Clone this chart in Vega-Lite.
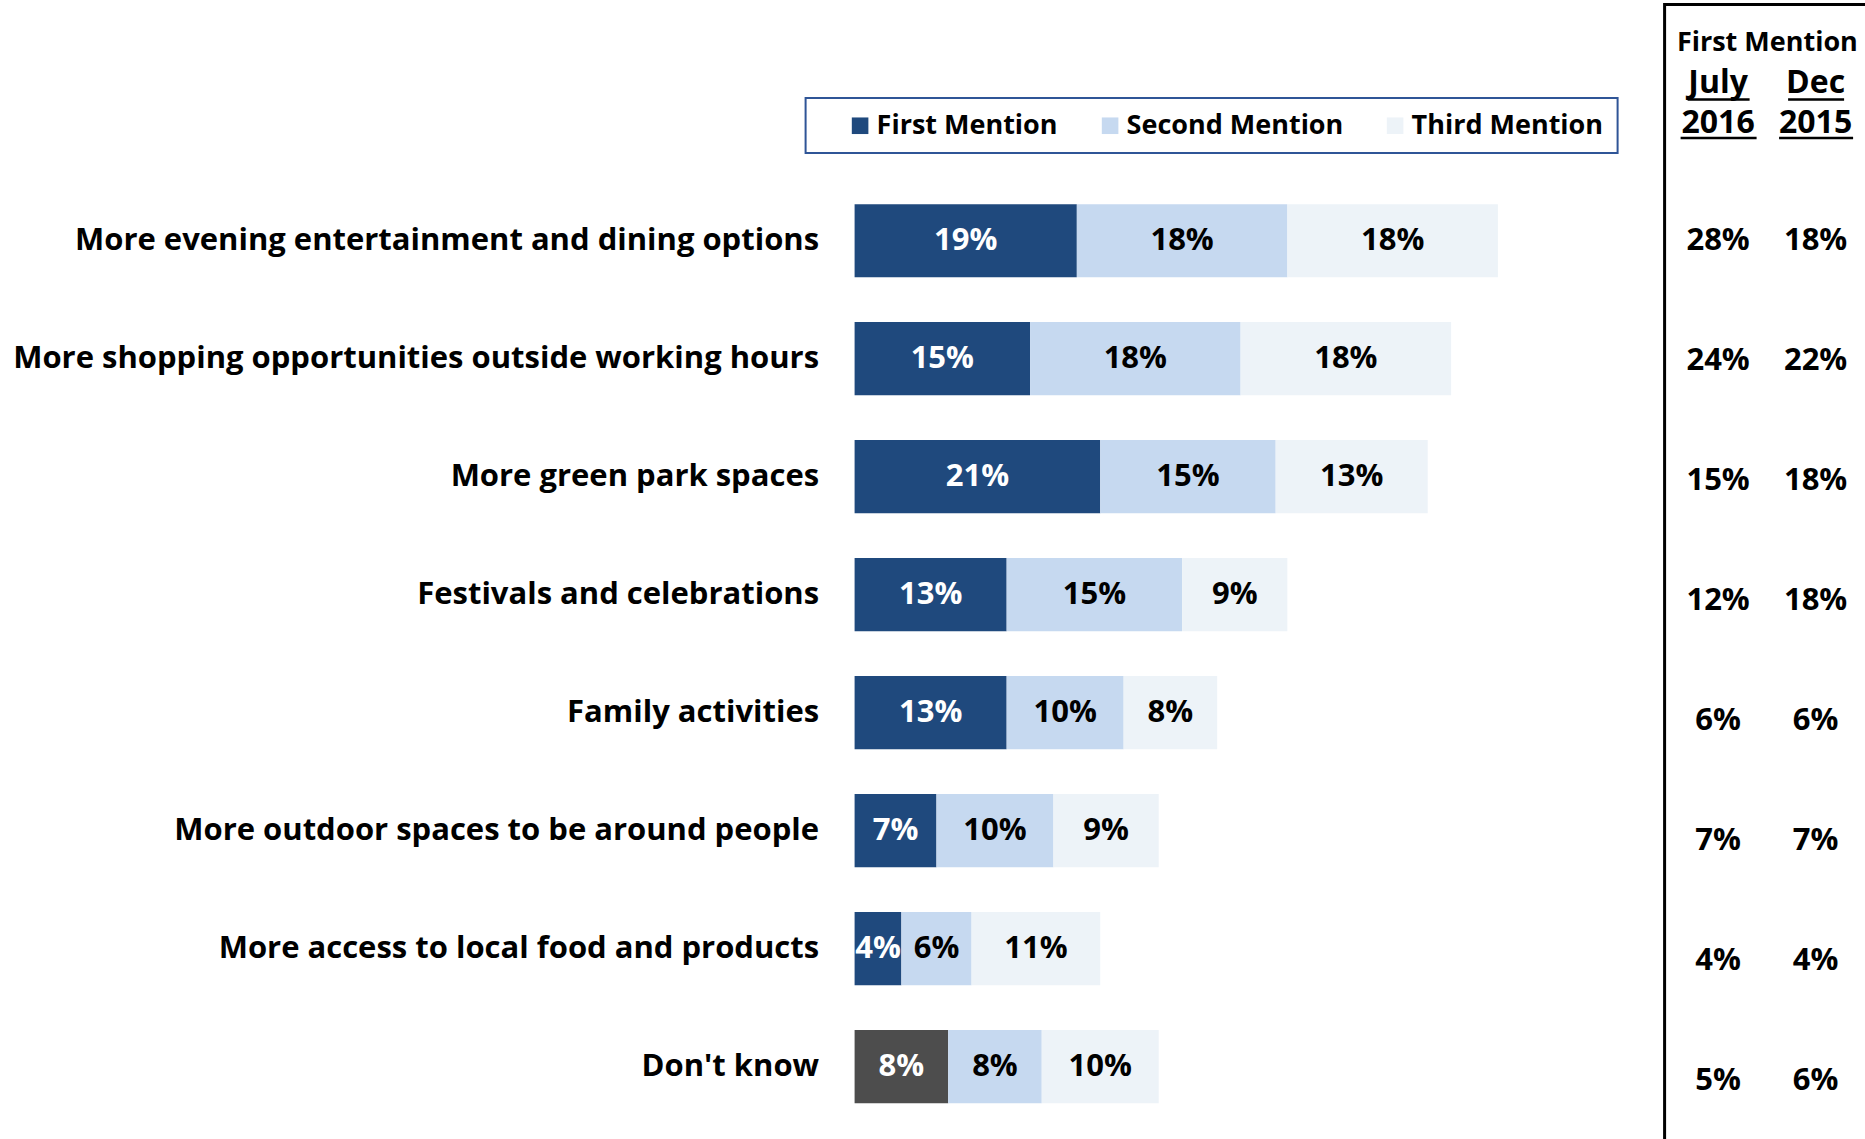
{
  "$schema": "https://vega.github.io/schema/vega-lite/v6.json",
  "padding": {"left": 11.6, "top": 2.5, "right": 0, "bottom": 0},
  "background": "white",
  "bounds": "flush",
  "spacing": 24,
  "config": {"view": {"stroke": null}, "font": "Open Sans"},
  "resolve": {"legend": {"color": "independent"}, "scale": {"x": "independent", "y": "independent"}},
  "datasets": {
    "bars": [
      {"item": "More evening entertainment and dining options", "mention": "First Mention", "value": 0.19},
      {"item": "More evening entertainment and dining options", "mention": "Second Mention", "value": 0.18},
      {"item": "More evening entertainment and dining options", "mention": "Third Mention", "value": 0.18},
      {"item": "More shopping opportunities outside working hours", "mention": "First Mention", "value": 0.15},
      {"item": "More shopping opportunities outside working hours", "mention": "Second Mention", "value": 0.18},
      {"item": "More shopping opportunities outside working hours", "mention": "Third Mention", "value": 0.18},
      {"item": "More green park spaces", "mention": "First Mention", "value": 0.21},
      {"item": "More green park spaces", "mention": "Second Mention", "value": 0.15},
      {"item": "More green park spaces", "mention": "Third Mention", "value": 0.13},
      {"item": "Festivals and celebrations", "mention": "First Mention", "value": 0.13},
      {"item": "Festivals and celebrations", "mention": "Second Mention", "value": 0.15},
      {"item": "Festivals and celebrations", "mention": "Third Mention", "value": 0.09},
      {"item": "Family activities", "mention": "First Mention", "value": 0.13},
      {"item": "Family activities", "mention": "Second Mention", "value": 0.10},
      {"item": "Family activities", "mention": "Third Mention", "value": 0.08},
      {"item": "More outdoor spaces to be around people", "mention": "First Mention", "value": 0.07},
      {"item": "More outdoor spaces to be around people", "mention": "Second Mention", "value": 0.10},
      {"item": "More outdoor spaces to be around people", "mention": "Third Mention", "value": 0.09},
      {"item": "More access to local food and products", "mention": "First Mention", "value": 0.04},
      {"item": "More access to local food and products", "mention": "Second Mention", "value": 0.06},
      {"item": "More access to local food and products", "mention": "Third Mention", "value": 0.11},
      {"item": "Don't know", "mention": "First Mention", "value": 0.08},
      {"item": "Don't know", "mention": "Second Mention", "value": 0.08},
      {"item": "Don't know", "mention": "Third Mention", "value": 0.10}
    ],
    "first": [
      {"item": "More evening entertainment and dining options", "period": "July 2016", "value": 0.28},
      {"item": "More evening entertainment and dining options", "period": "Dec 2015", "value": 0.18},
      {"item": "More shopping opportunities outside working hours", "period": "July 2016", "value": 0.24},
      {"item": "More shopping opportunities outside working hours", "period": "Dec 2015", "value": 0.22},
      {"item": "More green park spaces", "period": "July 2016", "value": 0.15},
      {"item": "More green park spaces", "period": "Dec 2015", "value": 0.18},
      {"item": "Festivals and celebrations", "period": "July 2016", "value": 0.12},
      {"item": "Festivals and celebrations", "period": "Dec 2015", "value": 0.18},
      {"item": "Family activities", "period": "July 2016", "value": 0.06},
      {"item": "Family activities", "period": "Dec 2015", "value": 0.06},
      {"item": "More outdoor spaces to be around people", "period": "July 2016", "value": 0.07},
      {"item": "More outdoor spaces to be around people", "period": "Dec 2015", "value": 0.07},
      {"item": "More access to local food and products", "period": "July 2016", "value": 0.04},
      {"item": "More access to local food and products", "period": "Dec 2015", "value": 0.04},
      {"item": "Don't know", "period": "July 2016", "value": 0.05},
      {"item": "Don't know", "period": "Dec 2015", "value": 0.06}
    ]
  },
  "hconcat": [
    {
      "width": 786,
      "height": 1135,
      "data": {"name": "bars"},
      "encoding": {
        "y": {
          "field": "item", "type": "nominal",
          "sort": ["More evening entertainment and dining options", "More shopping opportunities outside working hours", "More green park spaces", "Festivals and celebrations", "Family activities", "More outdoor spaces to be around people", "More access to local food and products", "Don't know"],
          "scale": {"type": "band", "paddingInner": 0.38, "paddingOuter": 1.0487, "align": 0.846},
          "axis": {"title": null, "domain": false, "ticks": false, "grid": false, "labelPadding": 36, "labelFont": "Open Sans", "labelFontSize": 31, "labelFontWeight": "bold", "labelColor": "black", "labelLimit": 1200}
        }
      },
      "layer": [
        {
          "mark": {"type": "bar"},
          "encoding": {
            "x": {"field": "value", "type": "quantitative", "stack": "zero", "scale": {"domain": [0, 0.672], "nice": false, "zero": true}, "axis": null},
            "order": {"field": "mention", "type": "nominal"},
            "color": {
              "condition": {"test": "datum.item === \"Don't know\" && datum.mention === 'First Mention'", "value": "#4D4D4D"},
              "field": "mention", "type": "nominal",
              "scale": {"domain": ["First Mention", "Second Mention", "Third Mention"], "range": ["#1F497D", "#C6D9F0", "#EDF3F8"]},
              "legend": {
                "orient": "none", "legendX": -49, "legendY": 93.5, "direction": "horizontal",
                "title": " ", "titleOrient": "left", "titlePadding": 27, "titleFontSize": 27,
                "labelFont": "Open Sans", "labelFontSize": 27, "labelFontWeight": "bold", "labelColor": "black", "labelLimit": 500,
                "symbolType": "square", "symbolSize": 275, "symbolStrokeWidth": 0, "symbolOpacity": 1,
                "labelOffset": 3, "columnPadding": 38, "padding": 14,
                "strokeColor": "#2F5597", "fillColor": "white",
                "encode": {"legend": {"update": {"strokeWidth": {"value": 2}}}}
              }
            }
          }
        },
        {
          "transform": [
            {"stack": "value", "groupby": ["item"], "sort": [{"field": "mention", "order": "ascending"}], "as": ["v0", "v1"]},
            {"fold": ["v0", "v1"], "as": ["edge", "pos"]},
            {"aggregate": [{"op": "mean", "field": "pos", "as": "mid"}], "groupby": ["item", "mention", "value"]}
          ],
          "mark": {"type": "text", "font": "Open Sans", "fontSize": 31, "fontWeight": "bold"},
          "encoding": {
            "x": {"field": "mid", "type": "quantitative", "stack": null},
            "text": {"field": "value", "type": "quantitative", "format": ".0%"},
            "color": {"condition": {"test": "datum.mention === 'First Mention'", "value": "white"}, "value": "black"}
          }
        }
      ]
    },
    {
      "width": 204.5,
      "height": 1141,
      "view": {"stroke": "black", "strokeWidth": 3},
      "data": {"name": "first"},
      "resolve": {"axis": {"x": "independent"}},
      "encoding": {
        "y": {
          "field": "item", "type": "nominal",
          "sort": ["More evening entertainment and dining options", "More shopping opportunities outside working hours", "More green park spaces", "Festivals and celebrations", "Family activities", "More outdoor spaces to be around people", "More access to local food and products", "Don't know"],
          "scale": {"type": "band", "paddingInner": 0, "paddingOuter": 0.75, "align": 0.978},
          "axis": null
        }
      },
      "layer": [
        {
          "mark": {"type": "point", "opacity": 0},
          "encoding": {
            "x": {
              "field": "period", "type": "nominal", "sort": ["July 2016", "Dec 2015"],
              "scale": {"type": "band", "paddingInner": 0, "paddingOuter": 0.0487},
              "axis": {
                "orient": "top", "offset": -94.5, "title": "First Mention", "titleFont": "Open Sans", "titleFontSize": 27, "titleFontWeight": "bold", "titleColor": "black", "titlePadding": 10.5,
                "labelExpr": "split(datum.label, ' ')[0]", "labelFont": "Open Sans", "labelFontSize": 32, "labelFontWeight": "bold", "labelColor": "black", "labelPadding": -0.5, "labelAngle": 0,
                "ticks": false, "grid": false,
                "domain": true, "domainColor": "black", "domainWidth": 2.5, "domainDash": [62, 38.5, 56, 200], "domainDashOffset": 334
              }
            }
          }
        },
        {
          "mark": {"type": "text", "font": "Open Sans", "fontSize": 31, "fontWeight": "bold", "color": "black"},
          "encoding": {
            "x": {
              "field": "period", "type": "nominal", "sort": ["July 2016", "Dec 2015"],
              "axis": {
                "orient": "top", "offset": -133, "title": null,
                "labelExpr": "split(datum.label, ' ')[1]", "labelFont": "Open Sans", "labelFontSize": 32, "labelFontWeight": "bold", "labelColor": "black", "labelPadding": -1.5, "labelAngle": 0,
                "ticks": false, "grid": false,
                "domain": true, "domainColor": "black", "domainWidth": 2.5, "domainDash": [76, 22.5, 74, 200], "domainDashOffset": 357
              }
            },
            "text": {"field": "value", "type": "quantitative", "format": ".0%"}
          }
        }
      ]
    }
  ]
}
